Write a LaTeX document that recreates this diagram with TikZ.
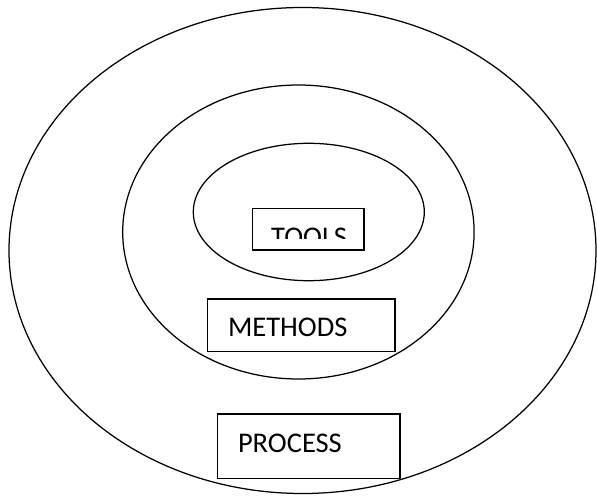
\documentclass[tikz,border=0pt]{standalone}
\usepackage{fontspec}
\setmainfont{Carlito}
\usetikzlibrary{shapes.geometric}
\tikzset{
  ring/.style={draw=black, ellipse, line width=1.25pt, inner sep=0pt, outer sep=0pt},
  labelbox/.style={draw=black, fill=white, rectangle, line width=1.3pt, inner sep=0pt, outer sep=0pt},
  labeltext/.style={inner sep=0pt, outer sep=0pt, anchor=base west, font=\fontsize{28.5}{33}\selectfont}
}
\begin{document}
\begin{tikzpicture}[x=1pt,y=1pt]
\useasboundingbox (0,0) rectangle (597,496);
\node[ring, minimum width=587pt, minimum height=486pt] (outer) at (302.5,245.5) {};
\node[ring, minimum width=351.4pt, minimum height=294pt] (middle) at (298.4,264) {};
\node[ring, minimum width=231pt, minimum height=137.4pt] (inner) at (308.8,284) {};
\node[labelbox, minimum width=111.3pt, minimum height=41.7pt] (toolsbox) at (308.35,266.85) {};
\node[labelbox, minimum width=187.7pt, minimum height=52.7pt] (methodsbox) at (301.15,170.65) {};
\node[labelbox, minimum width=182.7pt, minimum height=64.3pt] (processbox) at (308.65,49.85) {};
\begin{scope}
  \clip (252.7,257.7) rectangle (364,287.7);
  \node[labeltext] (toolstext) at (271.2,249) {TOOLS};
\end{scope}
\node[labeltext] (methodstext) at (228,159.3) {METHODS};
\node[labeltext] (processtext) at (238,43.3) {PROCESS};
\end{tikzpicture}
\end{document}
